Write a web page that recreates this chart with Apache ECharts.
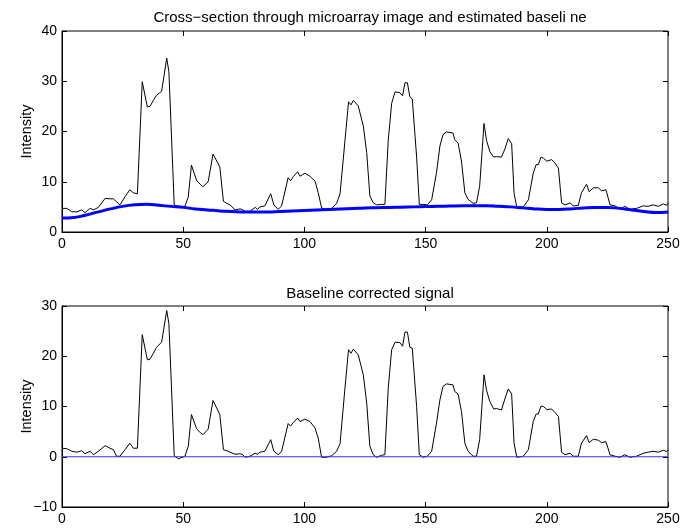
<!DOCTYPE html>
<html>
<head>
<meta charset="utf-8">
<script src="https://cdn.jsdelivr.net/npm/echarts@6/dist/echarts.min.js"></script>
<style>
  html, body { margin: 0; padding: 0; background: #fff; }
  #chart { width: 683px; height: 532px; }
</style>
</head>
<body>
<div id="chart"></div>
<script>
// raw cross-section (top plot)
const sigX = [0, 2, 4, 6.1, 8.1, 9.5, 11.6, 13, 15, 17.8, 19.8, 21.2, 22.5, 23.9, 24.6, 26, 28, 29.4, 31.1,
  33.1, 35.2, 36.3, 37.7, 39, 41.1, 43.2, 44.1, 46.3, 48, 50.7, 52.1, 53.4, 54.1, 55.5, 57, 58.2, 60.3,
  62.3, 63, 65.1, 66.6, 68, 69.3, 71.4, 73.5, 74.6, 75.5, 77.5, 79.7, 80.6, 81.7, 83.7, 84.4, 86.1, 87.4,
  89.2, 90.6, 93.3, 94.3, 95.4, 97.2, 98.2, 100.2, 102.3, 104.4, 105.7, 107.1, 108.9, 111.3, 113.3, 114.7,
  116.8, 118.2, 119.2, 120.2, 122.2, 124.3, 125.7, 127, 128.4, 129.8, 131.8, 133.2, 134.6, 136, 137.4,
  139.4, 140.5, 141.5, 142.5, 143.5, 144.5, 146.3, 147.4, 149, 150.7, 152.5, 154.5, 155.9, 157.2, 158.6,
  161.3, 162, 163.4, 164.8, 166.2, 167.5, 169.6, 171, 172.3, 174.1, 175.1, 176.5, 178.1, 179.2, 181.3,
  182.7, 184.1, 185.5, 186.5, 187.6, 190.3, 192.4, 194.4, 195.6, 196.5, 197.6, 198.6, 200, 202, 203.4,
  204.8, 206.1, 207.5, 209.6, 210.9, 213, 214.3, 216.4, 217.5, 219.2, 221.2, 222.6, 224.4, 226.1, 228.1,
  230.2, 232.2, 234.3, 237, 239.8, 241.8, 243.9, 246, 248.1, 249.4, 250];
const sigY = [4.7, 4.7, 4.05, 4.0, 4.4, 3.85, 4.7, 4.4, 4.9, 6.7, 6.6, 6.6, 6.0, 5.4, 5.7, 7.0, 8.4, 7.8, 7.6,
  29.9, 24.9, 25.0, 26.2, 27.2, 28.0, 34.6, 31.9, 5.4, 5.1, 5.1, 7.0, 13.3, 13.1, 10.3, 9.5, 9.0, 10.0,
  15.5, 15.5, 13.0, 6.1, 5.7, 5.4, 4.4, 4.6, 4.4, 4.1, 4.1, 4.9, 4.5, 5.0, 5.2, 5.2, 7.6, 5.4,
  4.5, 5.2, 10.8, 10.2, 11.0, 12.0, 11.1, 11.7, 11.1, 10.1, 7.8, 4.8, 4.5, 4.7, 5.7, 7.6,
  18.5, 25.9, 25.3, 26.2, 25.1, 21.1, 15.8, 7.2, 5.8, 5.4, 5.5, 5.5, 18.3, 25.6, 27.9,
  27.7, 27.1, 29.7, 29.7, 26.9, 26.5, 14.9, 5.5, 5.5, 5.4, 6.4, 11.8, 17.1, 19.4, 19.9,
  19.7, 18.4, 17.7, 14.1, 7.8, 6.5, 5.7, 5.8, 9.1, 21.6, 18.3, 16.0, 14.9, 15.0, 14.9,
  16.5, 18.6, 17.6, 7.7, 5.0, 5.0, 6.4, 11.7, 13.4, 13.4, 14.9, 14.7, 14.1, 14.4, 13.7,
  12.7, 5.8, 5.4, 5.8, 5.2, 5.3, 7.8, 9.5, 8.0, 8.8, 8.8, 8.2, 8.4, 5.4, 5.2,
  4.6, 5.1, 4.5, 4.7, 5.2, 5.1, 5.4, 5.1, 5.6, 5.3, 5.8];

// estimated baseline (top plot)
const baseX = [0, 5, 10, 15, 20, 25, 30, 35, 40, 45, 50, 55, 60, 65, 70, 75, 80, 85, 90, 95, 100, 105, 110,
  115, 120, 125, 130, 135, 140, 145, 150, 155, 160, 165, 170, 175, 180, 185, 190, 195, 200, 205, 210, 215,
  220, 225, 230, 235, 240, 245, 250];
const baseY = [2.8, 2.9, 3.4, 4.0, 4.6, 5.1, 5.4, 5.5, 5.3, 5.1, 4.9, 4.6, 4.4, 4.2, 4.1, 4.0, 4.0, 4.0, 4.1,
  4.2, 4.3, 4.4, 4.5, 4.6, 4.7, 4.8, 4.85, 4.9, 4.95, 5.0, 5.05, 5.1, 5.15, 5.2, 5.2, 5.2, 5.1, 5.0, 4.8,
  4.6, 4.5, 4.5, 4.6, 4.8, 4.9, 4.9, 4.7, 4.4, 4.1, 3.9, 4.0];

// baseline corrected signal (bottom plot)
const corrX = sigX;
const corrY = [1.7, 1.6, 1.1, 0.9, 1.2, 0.6, 1.1, 0.4, 1.1, 2.2, 1.7, 1.4, 0.1, 0.1, -0.1, 1.4, 2.7, 1.7, 1.7,
  24.3, 19.3, 19.4, 20.6, 21.8, 22.8, 29.1, 26.5, 0.2, -0.4, 0.1, 2.1, 8.4, 8.5, 5.6, 4.8, 4.4, 5.5,
  11.2, 11.2, 8.4, 1.4, 1.2, 0.9, 0.5, 0.6, 0.4, -0.1, 0.1, 0.7, 0.5, 0.9, 1.1, 1.1, 3.4, 1.1,
  0.4, 1.1, 6.6, 6.1, 6.8, 7.7, 7.0, 7.5, 7.0, 5.7, 3.7, -0.1, -0.1, 0.2, 1.1, 2.6,
  14.0, 21.3, 20.6, 21.4, 20.3, 16.3, 10.7, 2.1, 0.4, -0.1, 0.3, 0.4, 13.7, 21.3, 22.8,
  22.7, 22.0, 24.8, 24.8, 21.8, 21.6, 10.0, 0.4, -0.1, 0.1, 1.1, 6.7, 11.3, 14.0, 14.5,
  14.3, 13.0, 12.5, 9.0, 2.7, 1.1, 0.1, 0.1, 3.4, 16.3, 13.3, 11.0, 9.5, 9.6, 9.3,
  11.5, 13.5, 12.5, 2.7, -0.1, 0.1, 1.4, 7.0, 8.5, 8.5, 10.1, 10.0, 9.4, 9.5, 8.8,
  8.0, 0.9, 0.4, 0.7, 0.1, 0.1, 2.7, 4.2, 2.8, 3.5, 3.3, 2.8, 3.0, 0.4, 0.1,
  -0.1, 0.4, -0.1, 0.1, 0.7, 0.9, 1.1, 0.9, 1.3, 1.0, 1.4];

const zeroX = [0, 250];
const zeroY = [0, 0];

const xTicks = [0, 250, 50];        // min, max, interval
const yTicksTop = [0, 40, 10];
const yTicksBottom = [-10, 30, 10];

const titles = ['Cross\u2212section through microarray image and estimated baseli ne', 'Baseline corrected signal'];

const pairs = (xs, ys) => xs.map((x, i) => [x, ys[i]]);

const FONT = 'Liberation Sans, Arial, Helvetica, sans-serif';

function xAx(grid, ticks, mirror) {
  return {
    type: 'value', gridIndex: grid, min: ticks[0], max: ticks[1], interval: ticks[2],
    position: mirror ? 'top' : 'bottom',
    axisLine: { show: !mirror, onZero: false, lineStyle: { color: '#000', width: 1 } },
    axisTick: { show: true, inside: true, length: 5, lineStyle: { color: '#000' } },
    axisLabel: { show: !mirror, color: '#000', fontSize: 14, fontFamily: FONT, margin: 5 },
    splitLine: { show: false }
  };
}

function yAx(grid, ticks, mirror) {
  return {
    type: 'value', gridIndex: grid, min: ticks[0], max: ticks[1], interval: ticks[2],
    position: mirror ? 'right' : 'left',
    name: mirror ? '' : 'Intensity', nameLocation: 'middle', nameGap: 28, nameRotate: 90,
    nameMoveOverlap: false,
    nameTextStyle: { color: '#000', fontSize: 14.5, fontFamily: FONT },
    axisLine: { show: !mirror, onZero: false, lineStyle: { color: '#000', width: 1 } },
    axisTick: { show: true, inside: true, length: 5, lineStyle: { color: '#000' } },
    axisLabel: {
      show: !mirror, color: '#000', fontSize: 14, fontFamily: FONT, margin: 5,
      formatter: v => String(v).replace('-', '\u2212')
    },
    splitLine: { show: false }
  };
}

const titleStyle = { fontSize: 15, fontWeight: 'normal', color: '#000', fontFamily: FONT };

const chart = echarts.init(document.getElementById('chart'), null, { renderer: 'canvas' });
chart.setOption({
  backgroundColor: '#fff',
  animation: false,
  title: [
    { text: titles[0], left: 365, top: 5, textAlign: 'center', textStyle: titleStyle },
    { text: titles[1], left: 365, top: 281, textAlign: 'center', textStyle: titleStyle }
  ],
  grid: [
    { left: 62, right: 15, top: 31, height: 201, show: true, borderColor: '#000', borderWidth: 1, backgroundColor: '#fff' },
    { left: 62, right: 15, top: 306, height: 201, show: true, borderColor: '#000', borderWidth: 1, backgroundColor: '#fff' }
  ],
  xAxis: [xAx(0, xTicks, false), xAx(0, xTicks, true), xAx(1, xTicks, false), xAx(1, xTicks, true)],
  yAxis: [yAx(0, yTicksTop, false), yAx(0, yTicksTop, true), yAx(1, yTicksBottom, false), yAx(1, yTicksBottom, true)],
  series: [
    { type: 'line', xAxisIndex: 0, yAxisIndex: 0, data: pairs(sigX, sigY), showSymbol: false,
      lineStyle: { color: '#000', width: 1 } },
    { type: 'line', xAxisIndex: 0, yAxisIndex: 0, data: pairs(baseX, baseY), showSymbol: false, smooth: true,
      lineStyle: { color: '#0000ff', width: 3 } },
    { type: 'line', xAxisIndex: 2, yAxisIndex: 2, data: pairs(corrX, corrY), showSymbol: false,
      lineStyle: { color: '#000', width: 1 } },
    { type: 'line', xAxisIndex: 2, yAxisIndex: 2, data: pairs(zeroX, zeroY), showSymbol: false,
      lineStyle: { color: '#3333ff', width: 1 } }
  ]
});
</script>
</body>
</html>
